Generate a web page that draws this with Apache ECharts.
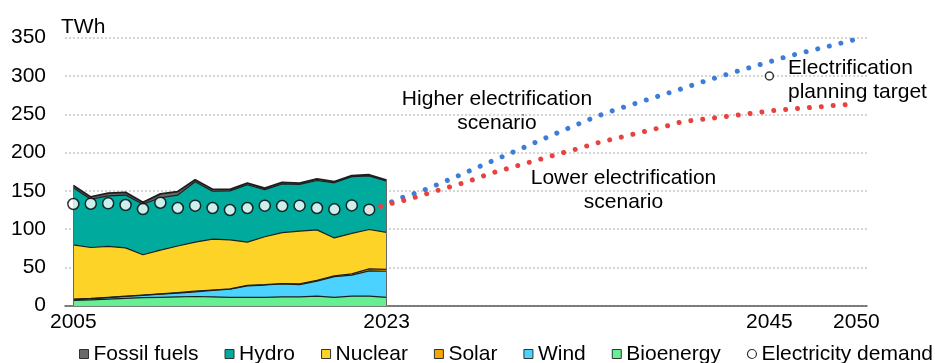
<!DOCTYPE html>
<html>
<head>
<meta charset="utf-8">
<script src="https://cdn.jsdelivr.net/npm/echarts@6/dist/echarts.min.js"></script>
<style>
html,body{margin:0;padding:0;background:#fff;}
#chart{width:935px;height:363px;}
</style>
</head>
<body>
<div id="chart"></div>
<script>
// ---- Data ----
const years = [2005,2006,2007,2008,2009,2010,2011,2012,2013,2014,2015,2016,2017,2018,2019,2020,2021,2022,2023];
const bioenergy = [7,7.5,8.5,9.5,10.5,11,11.5,12,11.5,11,11,11,11.5,11.5,12.5,11,12.5,12.5,11];
const wind      = [1,1.5,2,2.5,3,4,5,6,8.5,10.5,15,16,17,16,19.5,27,27.5,33,34];
const solar     = [0.5,0.5,0.5,0.5,0.5,0.5,0.5,1,0.5,0.5,0.5,0.5,0.5,1,1,1,1.5,2.5,2.5];
const nuclear   = [71,66.5,66.5,63,52.5,57,61,64,66.5,64,56.5,62.5,66.5,69,66,49.5,53,51.5,48.3];
const hydro     = [74.5,63,66,69,66,68.5,66.5,79,62.5,64,75,61.5,63.5,61,64.5,72,74,70,66.7];
const fossil    = [3,3,3.5,3.5,2.5,5,4.5,2.5,2.5,2,2,2,2,1.5,2,1.5,1.5,1.5,1.5];

const demandYears = [2005,2006,2007,2008,2009,2010,2011,2012,2013,2014,2015,2016,2017,2018,2019,2020,2021,2022];
const demand = [132.8,133.2,133.7,131.5,126.3,134.5,127.6,130.6,127.6,125,127.6,130.6,130.2,130.6,127.6,125.9,131,125.4];

const scenarioYears = [2022,2023,2024,2025,2026,2027,2028,2029,2030,2031,2032,2033,2034,2035,2036,2037,2038,2039,2040,2041,2042,2043,2044,2045,2046,2047,2048,2049,2050];
const higherScenario = [125.4,133,142,149.5,159,168.5,178.5,188.3,198,207.7,217.7,227.5,237.1,246.6,254.6,262,269.2,276.4,283.6,291.2,298.2,305.2,311.8,318.6,325.3,331,336.6,342.2,348];
const lowerScenario  = [125.4,132,137.5,144,151,157.5,164.8,173,179.5,186,192.4,199,205,212,217.5,223,228.5,234,240.5,243,245.7,248.5,251.3,254.3,256.5,258.2,260,262,263.5];

const targetYear = 2045;
const targetValue = 300;

const xTickLabels = [2005, 2023, 2045, 2050];
const yMin = 0, yMax = 350, yStep = 50;

// ---- Chart ----
const FONT = '"Liberation Sans", Arial, sans-serif';
const pairs = (xs, ys) => xs.map((x, i) => [x, ys[i]]);

// Layers bottom -> top; cumulative tops are built from the arrays above.
const layers = [
  { name: 'Bioenergy',    values: bioenergy, color: '#66f092' },
  { name: 'Wind',         values: wind,      color: '#4bd2ff' },
  { name: 'Solar',        values: solar,     color: '#f4a700' },
  { name: 'Nuclear',      values: nuclear,   color: '#fdd327' },
  { name: 'Hydro',        values: hydro,     color: '#00ab9e' },
  { name: 'Fossil fuels', values: fossil,    color: '#6a6a6a', lineW: 1.8 }
];
let running = years.map(() => 0);
layers.forEach(l => {
  running = running.map((v, i) => v + l.values[i]);
  l.cum = running.slice();
});
const totals = running;
const last = years.length - 1;

const edge = '#1e1e1e';
// draw top layer first so lower layers paint over it
const areaSeries = layers.slice().reverse().map(l => ({
  name: l.name, type: 'line', data: pairs(years, l.cum),
  symbol: 'none', showSymbol: false, z: 2,
  itemStyle: { color: l.color },
  lineStyle: { color: edge, width: l.lineW || 1.2 },
  areaStyle: { color: l.color, opacity: 1, origin: 'start' },
  emphasis: { disabled: true },
  animation: false
}));
// vertical outline at both ends of the historical area
areaSeries[areaSeries.length - 1].markLine = {
  silent: true, symbol: 'none', label: { show: false },
  lineStyle: { color: '#666', width: 1, type: 'solid' },
  animation: false,
  data: [
    [{ coord: [years[0], 0] }, { coord: [years[0], totals[0]] }],
    [{ coord: [years[last], 0] }, { coord: [years[last], totals[last]] }]
  ]
};

const series = areaSeries.concat([
  {
    name: 'Higher electrification scenario', type: 'line', data: pairs(scenarioYears, higherScenario),
    symbol: 'none', z: 3, animation: false,
    lineStyle: { color: '#3b7dd8', width: 5, type: [0.01, 11.92], cap: 'round' }
  },
  {
    name: 'Lower electrification scenario', type: 'line', data: pairs(scenarioYears, lowerScenario),
    symbol: 'none', z: 3, animation: false,
    lineStyle: { color: '#e8423f', width: 5, type: [0.01, 11.92], cap: 'round' }
  },
  {
    name: 'Electricity demand', type: 'scatter', data: pairs(demandYears, demand),
    symbol: 'circle', symbolSize: 11, z: 5, animation: false,
    itemStyle: { color: '#ffffff', borderColor: '#000000', borderWidth: 1.5 }
  },
  {
    name: 'Electrification planning target', type: 'scatter', data: [[targetYear, targetValue]],
    symbol: 'circle', symbolSize: 8, z: 5, animation: false,
    itemStyle: { color: '#ffffff', borderColor: '#000000', borderWidth: 1.5 }
  }
]);

const chart = echarts.init(document.getElementById('chart'), null, { renderer: 'canvas' });
chart.setOption({
  animation: false,
  backgroundColor: '#ffffff',
  textStyle: { fontFamily: FONT },
  grid: { left: 65, right: 68, top: 37.7, bottom: 57.3, containLabel: false },
  xAxis: {
    type: 'value', min: 2004.52, max: 2050.61,
    axisLine: { show: true, lineStyle: { color: '#595959', width: 1.5 } },
    axisTick: { show: false },
    splitLine: { show: false },
    axisLabel: {
      customValues: xTickLabels, fontSize: 21, color: '#000', margin: 6,
      fontFamily: FONT, formatter: v => String(v)
    }
  },
  yAxis: {
    type: 'value', min: yMin, max: yMax, interval: yStep,
    axisLine: { show: false }, axisTick: { show: false },
    splitLine: { show: true, lineStyle: { color: '#c8c8c8', width: 1.5, type: [2, 2] } },
    axisLabel: { fontSize: 21, color: '#000', margin: 19, fontFamily: FONT }
  },
  legend: {
    left: 74, top: 338.5, width: 900, itemWidth: 9, itemHeight: 9, itemGap: 26,
    icon: 'rect', selectedMode: false,
    itemStyle: { borderColor: '#333', borderWidth: 1 },
    textStyle: { fontSize: 21, color: '#000', fontFamily: FONT },
    data: [
      { name: 'Fossil fuels' }, { name: 'Hydro' }, { name: 'Nuclear' }, { name: 'Solar' },
      { name: 'Wind' }, { name: 'Bioenergy' },
      { name: 'Electricity demand', icon: 'circle', itemStyle: { color: '#fff', borderColor: '#000', borderWidth: 1.2 } }
    ]
  },
  graphic: [
    { type: 'text', x: 61, y: 27, silent: true,
      style: { text: 'TWh', font: '21px ' + FONT, fill: '#000', align: 'left', verticalAlign: 'middle' } },
    { type: 'text', x: 497, y: 111, silent: true,
      style: { text: 'Higher electrification\nscenario', font: '21px ' + FONT, lineHeight: 24, fill: '#000', align: 'center', verticalAlign: 'middle' } },
    { type: 'text', x: 623.5, y: 190.5, silent: true,
      style: { text: 'Lower electrification\nscenario', font: '21px ' + FONT, lineHeight: 24, fill: '#000', align: 'center', verticalAlign: 'middle' } },
    { type: 'text', x: 788, y: 80.5, silent: true,
      style: { text: 'Electrification\nplanning target', font: '21px ' + FONT, lineHeight: 24, fill: '#000', align: 'left', verticalAlign: 'middle' } }
  ],
  series
});
</script>
</body>
</html>
